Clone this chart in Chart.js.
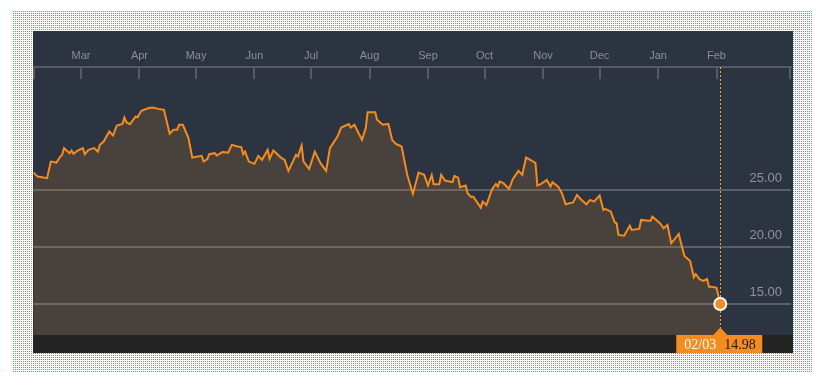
<!DOCTYPE html>
<html>
<head>
<meta charset="utf-8">
<script src="https://cdn.jsdelivr.net/npm/chart.js@4"></script>
<style>
  body { margin: 0; background: #fff; }
  #frame { position: absolute; left: 0; top: 0; }
  #panel { position: absolute; left: 33px; top: 31px; width: 760px; height: 322px; background: #2b3440; }
</style>
</head>
<body>
<canvas id="frame" width="833" height="388"></canvas>
<div id="panel"><canvas id="chart" width="760" height="322"></canvas></div>
<script>
// days counted from 2015-03-01, closes
const BASE = Date.UTC(2015, 2, 1);
const days = [
  -25, -24, -23, -20, -18, -16, -13, -11, -10, -9,
  -6, -5, -4, -2, 1, 2, 4, 7, 9, 10,
  12, 15, 17, 19, 22, 23, 24, 26, 29, 30,
  32, 36, 38, 41, 44, 47, 49, 51, 52, 54,
  57, 59, 64, 65, 67, 68, 71, 72, 75, 78,
  80, 83, 85, 86, 87, 89, 92, 94, 96, 99,
  100, 102, 106, 108, 110, 114, 115, 117, 118, 121,
  124, 127, 130, 132, 136, 138, 142, 143, 145, 149,
  151, 152, 156, 157, 160, 163, 165, 167, 170, 173,
  176, 179, 182, 184, 186, 187, 190, 191, 193, 197,
  198, 200, 201, 204, 205, 207, 208, 212, 213, 215,
  218, 220, 221, 222, 224, 227, 229, 232, 234, 236,
  239, 241, 242, 244, 247, 249, 250, 253, 255, 257,
  259, 261, 263, 265, 268, 270, 272, 275, 277, 278,
  281, 283, 284, 285, 288, 291, 292, 296, 297, 302,
  303, 307, 309, 311, 313, 317, 318, 320, 323, 325,
  326, 328, 330, 332, 333, 334, 337, 339
];
const closes = [
  26.52, 26.32, 26.17, 26.10, 26.03, 27.49, 27.40, 27.93, 28.08, 28.67,
  28.23, 28.46, 28.17, 28.43, 28.67, 28.14, 28.52, 28.67, 28.37, 28.96,
  29.25, 30.13, 29.78, 30.66, 30.80, 31.36, 30.95, 30.78, 31.45, 31.39,
  31.95, 32.19, 32.24, 32.12, 32.04, 29.93, 30.28, 30.28, 30.72, 30.72,
  29.55, 27.84, 27.99, 27.49, 27.70, 28.14, 28.23, 28.02, 28.32, 28.28,
  28.96, 28.81, 28.76, 28.14, 28.37, 27.49, 27.29, 27.99, 27.64, 28.52,
  27.73, 28.46, 27.84, 27.64, 26.67, 28.08, 27.93, 28.90, 27.49, 26.85,
  28.37, 27.35, 26.67, 28.67, 29.69, 30.48, 30.78, 30.48, 30.72, 29.40,
  30.43, 31.83, 31.83, 31.16, 30.72, 30.80, 29.40, 29.05, 28.81, 26.32,
  24.65, 26.52, 26.32, 25.38, 26.32, 25.50, 25.50, 26.32, 25.82, 25.68,
  26.23, 26.08, 25.24, 25.38, 24.71, 24.36, 24.41, 23.44, 23.97, 23.68,
  25.06, 25.53, 25.29, 25.73, 25.59, 25.09, 25.97, 26.67, 26.32, 27.84,
  27.58, 27.35, 25.38, 25.53, 25.88, 25.29, 25.68, 25.29, 24.71, 23.74,
  23.83, 23.90, 24.56, 24.18, 23.74, 24.12, 23.97, 24.50, 23.24, 23.33,
  23.09, 22.16, 22.07, 21.04, 20.98, 21.86, 21.48, 21.57, 22.36, 22.27,
  22.65, 22.07, 21.63, 21.92, 20.31, 21.13, 20.45, 19.20, 18.76, 17.32,
  17.61, 17.15, 17.00, 17.17, 16.50, 16.50, 16.41, 14.98
];
const monthLabels = ['Mar', 'Apr', 'May', 'Jun', 'Jul', 'Aug', 'Sep', 'Oct', 'Nov', 'Dec', 'Jan', 'Feb'];
const yTicks = [15, 20, 25];
const X_MIN = -25.45, X_MAX = 376.5;
const Y_MIN = 12.25, Y_MAX = 35.8;

const DAY = 86400000;
const monthStarts = monthLabels.map((m, i) => (Date.UTC(2015, 2 + i, 1) - BASE) / DAY);
const last = days.length - 1;
const lastDate = new Date(BASE + days[last] * DAY);
const lastLabel = String(lastDate.getUTCMonth() + 1).padStart(2, '0') + '/' + String(lastDate.getUTCDate()).padStart(2, '0');

const ORANGE = '#f68b1f';

// dotted orange frame round the panel
(() => {
    const tile = document.createElement('canvas');
    tile.width = 2; tile.height = 2;
    const t = tile.getContext('2d');
    t.fillStyle = '#fff'; t.fillRect(0, 0, 2, 2);
    t.fillStyle = '#ee7a14'; t.fillRect(0, 0, 1, 1);
    const ctx = document.getElementById('frame').getContext('2d');
    ctx.fillStyle = ctx.createPattern(tile, 'repeat');
    ctx.translate(13, 11);
    ctx.fillRect(0, 0, 799, 361);
})();

const frameDecor = {
    id: 'frameDecor',
    beforeDraw: (chart) => {
        const { ctx, chartArea: a, width, height } = chart;
        ctx.save();
        ctx.fillStyle = '#232323';
        ctx.fillRect(0, a.bottom, width, height - a.bottom);
        ctx.restore();
    },
    afterDraw: (chart) => {
        const { ctx, chartArea: a } = chart;
        const xs = chart.scales.x;
        ctx.save();
        ctx.strokeStyle = '#555c65';
        ctx.lineWidth = 2;
        [X_MIN, ...monthStarts, X_MAX].forEach(v => {
            const px = Math.round(xs.getPixelForValue(v)) + (v === X_MIN ? 1 : v === X_MAX ? -1 : 0);
            ctx.beginPath();
            ctx.moveTo(px, a.top);
            ctx.lineTo(px, a.top + 12);
            ctx.stroke();
        });
        ctx.restore();
    }
};

const lastMarker = {
    id: 'lastMarker',
    beforeDatasetsDraw: (chart) => {
        const { ctx, chartArea: a } = chart;
        const px = Math.round(chart.scales.x.getPixelForValue(days[last])) + 0.5;
        ctx.save();
        ctx.strokeStyle = '#f2a81d';
        ctx.lineWidth = 1;
        ctx.setLineDash([2, 2]);
        ctx.beginPath();
        ctx.moveTo(px, a.top);
        ctx.lineTo(px, a.bottom);
        ctx.stroke();
        ctx.restore();
    },
    afterDraw: (chart) => {
        const { ctx, chartArea: a, height } = chart;
        const px = chart.scales.x.getPixelForValue(days[last]);
        ctx.save();
        ctx.fillStyle = ORANGE;
        ctx.beginPath();
        ctx.moveTo(px - 7, a.bottom);
        ctx.lineTo(px, a.bottom - 7.5);
        ctx.lineTo(px + 7, a.bottom);
        ctx.closePath();
        ctx.fill();
        ctx.fillRect(px - 44, a.bottom, 86, height - a.bottom);
        ctx.font = '14px "Liberation Serif", "Times New Roman", serif';
        ctx.textBaseline = 'alphabetic';
        ctx.fillStyle = '#ffffff';
        ctx.fillText(lastLabel, px - 36, a.bottom + 14);
        ctx.fillStyle = '#1a1a1a';
        ctx.fillText(closes[last].toFixed(2), px + 4, a.bottom + 14);
        ctx.restore();
    }
};

new Chart(document.getElementById('chart'), {
    type: 'line',
    data: {
        datasets: [{
            data: days.map((d, i) => ({ x: d, y: closes[i] })),
            borderColor: ORANGE,
            borderWidth: 2,
            backgroundColor: 'rgba(246,139,31,0.15)',
            fill: 'start',
            tension: 0,
            pointRadius: c => c.dataIndex === last ? 6 : 0,
            pointBackgroundColor: ORANGE,
            pointBorderColor: '#ffffff',
            pointBorderWidth: 2
        }]
    },
    plugins: [frameDecor, lastMarker],
    options: {
        responsive: false,
        animation: false,
        layout: { autoPadding: false, padding: { top: 17, bottom: 18, left: 0, right: 2 } },
        plugins: { legend: { display: false }, tooltip: { enabled: false } },
        scales: {
            x: {
                type: 'linear', position: 'top', min: X_MIN, max: X_MAX,
                afterBuildTicks: s => { s.ticks = monthStarts.map(v => ({ value: v })); },
                afterFit: s => { s.height = 19; s.paddingLeft = 0; s.paddingRight = 0; },
                ticks: { autoSkip: false, maxRotation: 0, padding: 4, color: '#8a9099', font: { family: '"Liberation Sans", Arial, sans-serif', size: 11 }, callback: (v, i) => monthLabels[i] },
                grid: { display: false, drawTicks: false },
                border: { display: true, color: '#555c65', width: 2 }
            },
            y: {
                position: 'right', min: Y_MIN, max: Y_MAX,
                afterBuildTicks: s => { s.ticks = yTicks.map(v => ({ value: v })); },
                afterFit: s => { s.width = 0; s.paddingTop = 0; s.paddingBottom = 0; },
                ticks: { mirror: true, padding: -9, labelOffset: -11, color: '#8e949c', font: { family: '"Liberation Sans", Arial, sans-serif', size: 13 }, callback: v => v.toFixed(2) },
                grid: { color: '#5a6068', lineWidth: 2, drawTicks: false },
                border: { display: false }
            }
        }
    }
});
</script>
</body>
</html>
